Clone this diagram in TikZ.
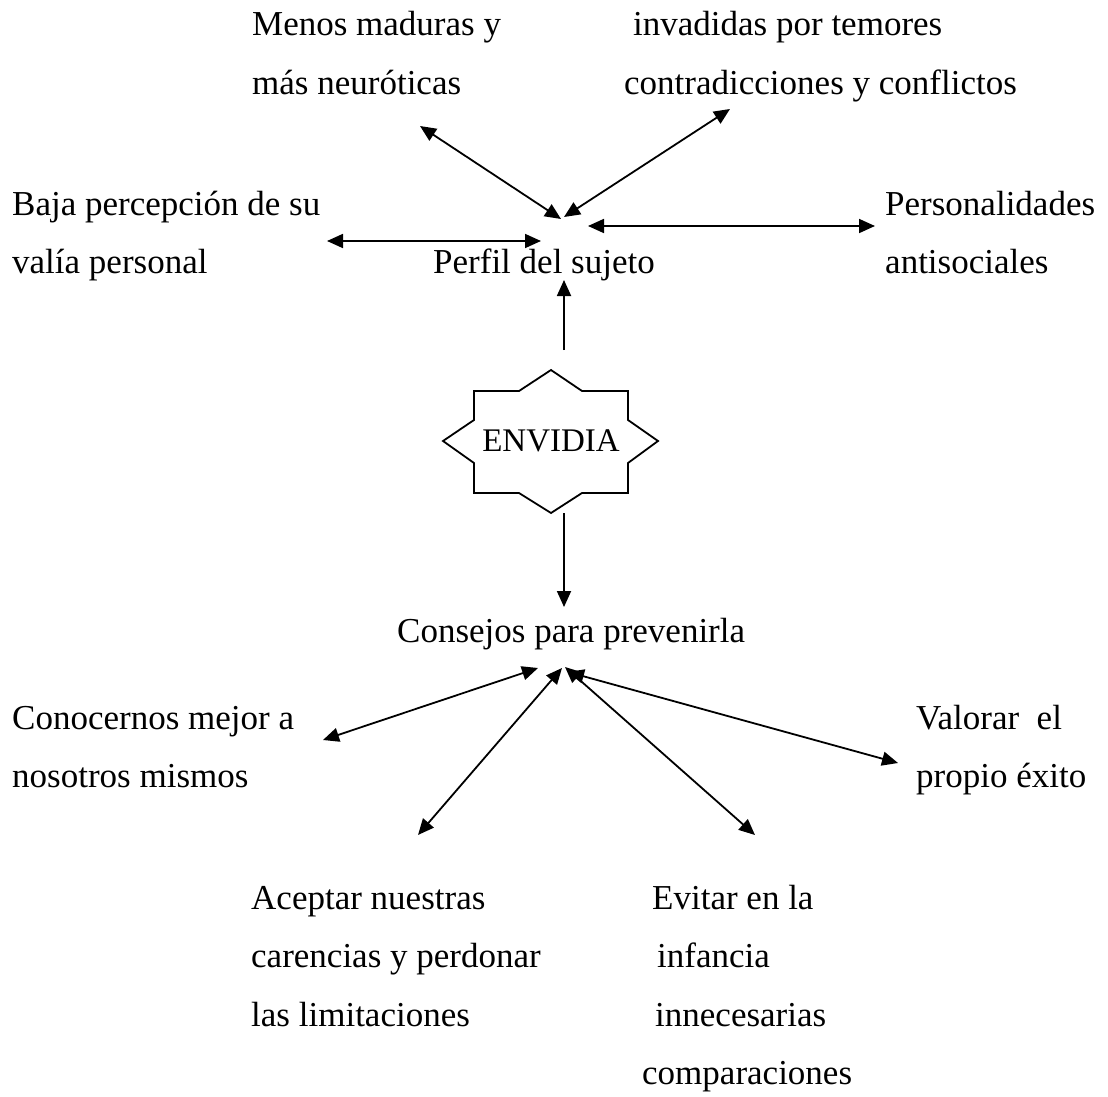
\documentclass[tikz,border=0pt]{standalone}
\usepackage{fontspec}
\usetikzlibrary{arrows.meta}
\setmainfont{Liberation Serif}
\newcommand\labelfont{\fontsize{35}{58.5}\selectfont}
\newcommand\stacklines[1]{\begin{tabular}[t]{@{}l@{}}#1\end{tabular}}
\tikzset{
  tip/.style={Triangle[length=16pt,width=14pt]},
  label text/.style={anchor=base west, inner sep=0pt, font=\labelfont},
  link/.style={line width=1.8pt, {Triangle[length=16pt,width=14pt]}-{Triangle[length=16pt,width=14pt]}},
  onelink/.style={line width=1.8pt, -{Triangle[length=16pt,width=14pt]}},
  starline/.style={line width=1.8pt, line join=miter}
}
\begin{document}
\begin{tikzpicture}[x=1pt, y=-1pt]
\useasboundingbox (0,0) rectangle (1108,1097);

% text blocks (anchored at the baseline of their first line)
\node[label text] (menos)    at (252,36)  {\stacklines{Menos maduras y\\más neuróticas}};
\node[label text] (invad)    at (624,36)  {\stacklines{\hspace*{9pt}invadidas por temores\\contradicciones y conflictos}};
\node[label text] (baja)     at (12,215)  {\stacklines{Baja percepción de su\\valía personal}};
\node[label text] (perfil)   at (433,273) {Perfil del sujeto};
\node[label text] (person)   at (885,215) {\stacklines{Personalidades\\antisociales}};
\node[label text] (consejos) at (397,642) {Consejos para prevenirla};
\node[label text] (conoc)    at (12,729)  {\stacklines{Conocernos mejor a\\nosotros mismos}};
\node[label text] (valorar)  at (916,729) {\stacklines{Valorar\ \ el\\propio éxito}};
\node[label text] (aceptar)  at (251,909) {\stacklines{Aceptar nuestras\\carencias y perdonar\\las limitaciones}};
\node[label text] (evitar)   at (642,909) {\stacklines{\hspace*{10pt}Evitar en la\\\hspace*{15pt}infancia\\\hspace*{13pt}innecesarias\\comparaciones}};

% eight-pointed star around ENVIDIA
\node[inner sep=0pt, font=\fontsize{33}{40}\selectfont] (envidia) at (551,441) {ENVIDIA};
\draw[starline] (474,391) -- (519,391) -- (551,370) -- (582,391) -- (628,391)
  -- (628,420) -- (658,441) -- (628,463) -- (628,493) -- (582,493) -- (551,513)
  -- (519,493) -- (474,493) -- (474,463) -- (443,441) -- (474,420) -- cycle;

% connector end points
\coordinate (p1) at (561,219);  \coordinate (q1) at (420,126);
\coordinate (p2) at (564,217);  \coordinate (q2) at (730,109);
\coordinate (p3) at (588,226);  \coordinate (q3) at (875,226);
\coordinate (p4) at (541,241);  \coordinate (q4) at (327,241);
\coordinate (e1) at (564,350);  \coordinate (f1) at (564,280);
\coordinate (e2) at (564,513);  \coordinate (f2) at (564,607);
\coordinate (c1) at (538,668);  \coordinate (d1) at (323,740);
\coordinate (c2) at (562,668);  \coordinate (d2) at (418,835);
\coordinate (c3) at (565,667);  \coordinate (d3) at (755,835);
\coordinate (c4) at (568,672);  \coordinate (d4) at (898,763);

\draw[link] (p1) -- (q1);
\draw[link] (p2) -- (q2);
\draw[link] (p3) -- (q3);
\draw[link] (p4) -- (q4);
\draw[onelink] (e1) -- (f1);
\draw[onelink] (e2) -- (f2);
\draw[link] (c1) -- (d1);
\draw[link] (c2) -- (d2);
\draw[link] (c3) -- (d3);
\draw[link] (c4) -- (d4);
\end{tikzpicture}
\end{document}
